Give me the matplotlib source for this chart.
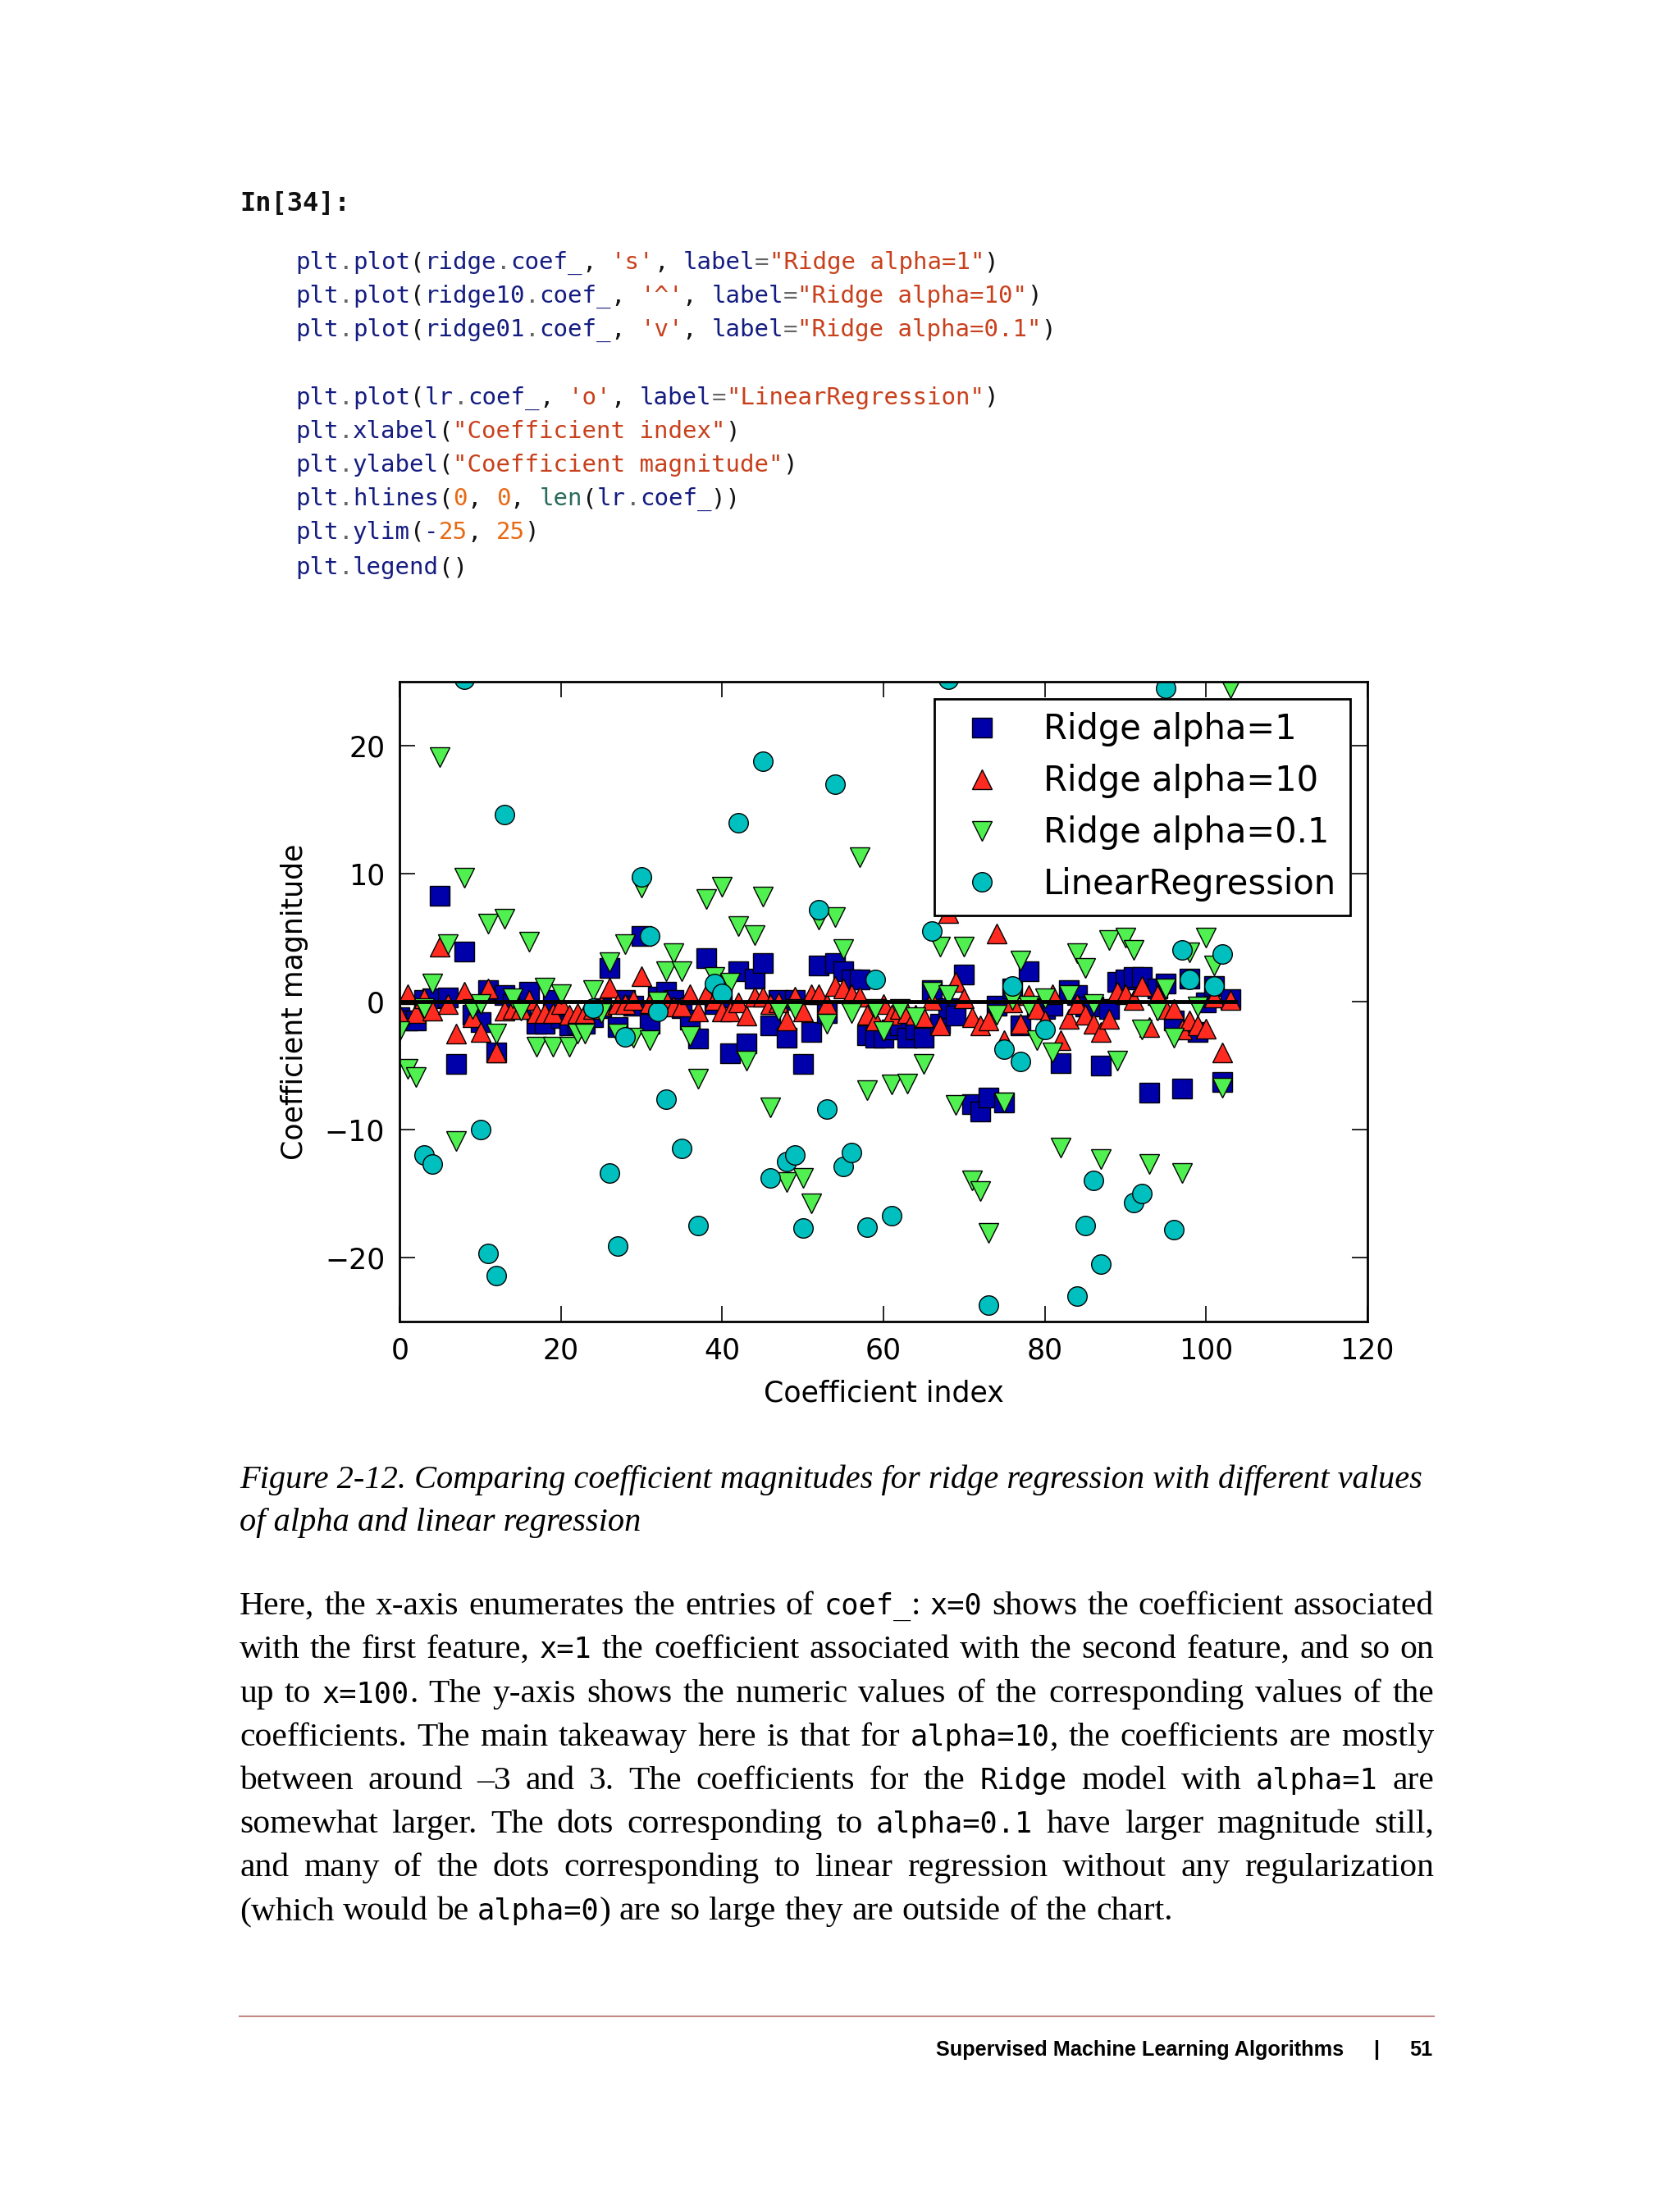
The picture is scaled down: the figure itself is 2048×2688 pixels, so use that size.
import matplotlib
matplotlib.use('Agg')
import matplotlib.pyplot as plt

# coefficients (index 0..103)
ridge_coef = [
    -1.2, -1.45, -1.5, 0.1, 0.25, 8.3, 0.3, -4.9, 3.9, -1.0,
    -1.6, 0.9, -4.0, 0.5, -0.2, -0.55, 0.75, -1.7, -1.7, 0.1,
    -1.3, -1.85, -1.7, -1.7, -1.2, -0.5, 2.6, -2.0, 0.1, -0.3,
    5.1, -1.7, 0.4, 0.75, 0.1, -0.5, -1.4, -2.9, 3.4, -0.2,
    0.3, -4.05, 2.4, -3.3, 1.8, 3.0, -1.85, 0.1, -2.8, 0.1,
    -4.9, -2.4, 2.85, -0.9, 3.0, 2.4, 1.7, 1.7, -2.6, -2.8,
    -2.8, -2.2, -1.85, -2.8, -2.2, -2.8, 0.9, -1.7, -0.5, -1.1,
    2.1, -8.0, -8.6, -7.5, -0.3, -7.9, 1.0, -1.85, 2.4, -0.5,
    -0.55, -0.3, -4.8, 0.9, 0.5, -0.4, -0.4, -5.0, -0.55, 1.55,
    1.7, 1.9, 1.9, -7.1, 1.05, 1.4, -1.45, -6.8, 1.8, -2.4,
    -0.05, 1.2, -6.3, 0.2]

ridge10_coef = [
    -1.0, 0.6, -0.9, 0.25, -0.7, 4.3, -0.2, -2.5, 0.8, -1.2,
    -2.4, 1.0, -4.0, -0.7, -0.55, -0.6, 0.1, -0.9, -0.9, -0.9,
    -0.2, -1.0, -0.9, -0.9, -0.6, -0.3, 1.1, -0.2, -0.2, 0.1,
    2.0, -0.1, -0.3, 0.15, -0.4, -0.4, 0.6, -0.8, 0.6, 0.1,
    -0.8, -0.8, -0.05, -1.1, 0.4, 0.4, -0.2, -0.05, -1.5, 0.4,
    -0.8, 0.6, 0.6, -0.2, 1.2, 1.0, 0.6, 0.4, -1.0, -1.5,
    -0.2, -1.0, -0.55, -0.9, -1.0, -1.2, 0.1, -1.85, 6.9, 1.55,
    0.25, -1.2, -1.85, -1.5, 5.35, -3.0, -0.05, -1.7, 0.5, -0.55,
    -1.5, 0.6, -3.0, -1.35, -0.2, -1.0, -1.7, -2.4, -1.35, 0.8,
    0.6, 0.1, 1.2, -2.0, 0.5, -0.55, -0.55, -2.2, -1.5, -1.85,
    -2.1, 0.3, -3.95, 0.1]

ridge01_coef = [
    -2.3, -5.25, -5.9, -0.5, 1.4, 19.1, 4.5, -10.9, 9.7, -0.55,
    -0.2, 6.1, -2.5, 6.5, 0.25, -0.7, 4.7, -3.5, 1.1, -3.5,
    0.6, -3.5, -2.5, -2.5, 0.9, -0.9, 3.1, -2.5, 4.5, -2.8,
    8.9, -3.0, 0.0, 2.4, 3.8, 2.4, -2.7, -6.0, 8.0, 1.9,
    9.0, 1.5, 5.9, -4.6, 5.2, 8.2, -8.3, -0.7, -14.1, -0.6,
    -13.8, -15.8, 6.4, -1.7, 6.6, 4.1, -0.9, 11.3, -6.9, -0.6,
    -2.3, -6.5, -0.55, -6.4, -1.2, -4.9, 0.75, 4.3, 0.5, -8.1,
    4.3, -14.0, -14.8, -18.1, -1.0, -7.9, 0.1, 3.2, -0.3, -3.0,
    0.25, -4.0, -11.4, 0.5, 3.8, 2.6, -0.2, -12.3, 4.8, -4.6,
    5.0, 4.05, -2.2, -12.7, -0.7, 1.0, -2.8, -13.4, 3.85, -0.4,
    5.0, 2.8, -6.7, 24.5]

# many linear regression coefficients lie outside the visible range
lr_coef = [
    -35.0, 42.0, -31.0, -12.0, -12.7, 38.0, -45.0, 33.0, 25.2, -28.0,
    -10.0, -19.7, -21.4, 14.6, 51.0, -47.0, 36.0, -62.0, 40.0, -33.0,
    57.0, -29.0, 44.0, -38.0, -0.5, 31.0, -13.4, -19.1, -2.75, -41.0,
    9.75, 5.1, -0.8, -7.6, 35.0, -11.5, -30.0, -17.5, 46.0, 1.4,
    0.65, -39.0, 14.0, 28.0, -52.0, 18.8, -13.8, 34.0, -12.5, -12.0,
    -17.7, 43.0, 7.2, -8.4, 17.0, -12.9, -11.8, 37.0, -17.6, 1.7,
    -48.0, -16.7, 29.0, -36.0, 55.0, -27.0, 5.5, 32.0, 25.2, -44.0,
    39.0, -58.0, 30.0, -23.7, 41.0, -3.7, 1.2, -4.7, 36.0, -31.0,
    -2.2, 27.0, -40.0, 33.0, -23.0, -17.5, -14.0, -20.5, 45.0, -34.0,
    29.0, -15.7, -15.0, -42.0, 31.0, 24.5, -17.8, 4.05, 1.7, -37.0,
    28.0, 1.2, 3.7, -46.0]

labels = ["Ridge alpha=1", "Ridge alpha=10", "Ridge alpha=0.1", "LinearRegression"]

xticks = [0, 20, 40, 60, 80, 100, 120]
yticks = [-20, -10, 0, 10, 20]

W, H = 2048, 2688
fig = plt.figure(figsize=(W / 100, H / 100), dpi=100)
renderer = fig.canvas.get_renderer()


def fx(px):
    return px / W


def fy(py):
    return 1 - py / H


def width_of(s, **kw):
    t = fig.text(0, 0, s, **kw)
    w = t.get_window_extent(renderer).width
    t.remove()
    return w


# ---------- code cell ----------
MONO = ['DejaVu Sans Mono']
NAVY = '#141c80'
STR = '#c8401c'
NUM = '#e86a14'
BUILTIN = '#2b6b5c'
DOT = '#666666'
BLK = '#111111'

fig.text(fx(292), fy(256), 'In[34]:', family=MONO, size=23, weight='bold',
         va='baseline', color='#111111')

code_size = 21
adv = width_of('M' * 40, family=MONO, size=code_size) / 40

code_lines = [
    (328, [('plt', NAVY), ('.', DOT), ('plot', NAVY), ('(', BLK), ('ridge', NAVY), ('.', DOT),
           ('coef_', NAVY), (', ', BLK), ("'s'", STR), (', ', BLK), ('label', NAVY), ('=', DOT),
           ('"Ridge alpha=1"', STR), (')', BLK)]),
    (369, [('plt', NAVY), ('.', DOT), ('plot', NAVY), ('(', BLK), ('ridge10', NAVY), ('.', DOT),
           ('coef_', NAVY), (', ', BLK), ("'^'", STR), (', ', BLK), ('label', NAVY), ('=', DOT),
           ('"Ridge alpha=10"', STR), (')', BLK)]),
    (410, [('plt', NAVY), ('.', DOT), ('plot', NAVY), ('(', BLK), ('ridge01', NAVY), ('.', DOT),
           ('coef_', NAVY), (', ', BLK), ("'v'", STR), (', ', BLK), ('label', NAVY), ('=', DOT),
           ('"Ridge alpha=0.1"', STR), (')', BLK)]),
    (493, [('plt', NAVY), ('.', DOT), ('plot', NAVY), ('(', BLK), ('lr', NAVY), ('.', DOT),
           ('coef_', NAVY), (', ', BLK), ("'o'", STR), (', ', BLK), ('label', NAVY), ('=', DOT),
           ('"LinearRegression"', STR), (')', BLK)]),
    (534, [('plt', NAVY), ('.', DOT), ('xlabel', NAVY), ('(', BLK), ('"Coefficient index"', STR),
           (')', BLK)]),
    (575, [('plt', NAVY), ('.', DOT), ('ylabel', NAVY), ('(', BLK), ('"Coefficient magnitude"', STR),
           (')', BLK)]),
    (616, [('plt', NAVY), ('.', DOT), ('hlines', NAVY), ('(', BLK), ('0', NUM), (', ', BLK),
           ('0', NUM), (', ', BLK), ('len', BUILTIN), ('(', BLK), ('lr', NAVY), ('.', DOT),
           ('coef_', NAVY), ('))', BLK)]),
    (657, [('plt', NAVY), ('.', DOT), ('ylim', NAVY), ('(', BLK), ('-', NAVY), ('25', NUM),
           (', ', BLK), ('25', NUM), (')', BLK)]),
    (700, [('plt', NAVY), ('.', DOT), ('legend', NAVY), ('()', BLK)]),
]

for y, segs in code_lines:
    x = 360
    for txt, col in segs:
        fig.text(fx(x), fy(y), txt, family=MONO, size=code_size, color=col, va='baseline')
        x += len(txt) * adv

# ---------- chart ----------
ax = fig.add_axes([fx(487.3), fy(1611), (1666.7 - 487.3) / W, (1611 - 831) / H])
ms = 17
ax.plot(ridge_coef, 's', color='#0000aa', mec='k', mew=1.0, ms=ms, label=labels[0])
ax.plot(ridge10_coef, '^', color='#ff2a20', mec='k', mew=1.0, ms=ms, label=labels[1])
ax.plot(ridge01_coef, 'v', color='#50f050', mec='k', mew=1.0, ms=ms, label=labels[2])
ax.plot(lr_coef, 'o', color='#00bfbf', mec='k', mew=1.0, ms=ms, label=labels[3])
ax.hlines(0, 0, len(lr_coef), color='k', linewidth=3.5)
ax.set_ylim(-25, 25)
ax.set_xlim(0, 120)
ax.set_xticks(xticks)
ax.set_yticks(yticks)
ax.tick_params(direction='in', length=14, width=1.2, top=True, right=True,
               labelsize=25, pad=13)
for sp in ax.spines.values():
    sp.set_linewidth(2)
ax.set_xlabel('Coefficient index', fontsize=25, labelpad=13)
ax.set_ylabel('Coefficient magnitude', fontsize=25, labelpad=14)
leg = ax.legend(numpoints=1, fontsize=30, fancybox=False, framealpha=1,
                edgecolor='k', loc='upper right', borderaxespad=0.5)
leg.get_frame().set_linewidth(2)

# ---------- caption ----------
SERIF = ['Liberation Serif', 'DejaVu Serif']
cap1 = 'Figure 2-12. Comparing coefficient magnitudes for ridge regression with different values'
cap2 = 'of alpha and linear regression'
w0 = width_of(cap1, family=SERIF, style='italic', size=30)
cap_size = 30 * 1442 / w0
fig.text(fx(292), fy(1814), cap1, family=SERIF, style='italic', size=cap_size, va='baseline')
fig.text(fx(292), fy(1866), cap2, family=SERIF, style='italic', size=cap_size, va='baseline')

# ---------- body paragraph (justified) ----------
body = [
    "Here, the x-axis enumerates the entries of `coef_`: `x=0` shows the coefficient associated",
    "with the first feature, `x=1` the coefficient associated with the second feature, and so on",
    "up to `x=100`. The y-axis shows the numeric values of the corresponding values of the",
    "coefficients. The main takeaway here is that for `alpha=10`, the coefficients are mostly",
    "between around \u20133 and 3. The coefficients for the `Ridge` model with `alpha=1` are",
    "somewhat larger. The dots corresponding to `alpha=0.1` have larger magnitude still,",
    "and many of the dots corresponding to linear regression without any regularization",
    "(which would be `alpha=0`) are so large they are outside of the chart.",
]
body_base = [1968, 2021, 2075, 2128, 2181, 2234, 2287, 2340]
x0, x1 = 292, 1748


def pieces_of(word):
    parts = word.split('`')
    out = []
    for k, p in enumerate(parts):
        if p:
            out.append((p, k % 2 == 1))
    return out


def piece_kw(is_code, scale):
    if is_code:
        return dict(family=MONO, size=22.5 * scale)
    return dict(family=SERIF, size=26.5 * scale)


def natural_width(line, scale):
    sp = width_of('a a', **piece_kw(False, scale)) - width_of('aa', **piece_kw(False, scale))
    words = [pieces_of(w) for w in line.split(' ')]
    ww = sum(width_of(p, **piece_kw(c, scale)) for w in words for p, c in w)
    return ww + sp * (len(words) - 1)


# scale fonts so that the longest full line just fills the text block
widest = max(natural_width(l, 1.0) for l in body[:-1])
scale = min(1.0 * (x1 - x0) / widest * 0.985, 1.2)

space_w = width_of('a a', **piece_kw(False, scale)) - width_of('aa', **piece_kw(False, scale))

for li, (line, yb) in enumerate(zip(body, body_base)):
    words = [pieces_of(w) for w in line.split(' ')]
    widths = []
    for w in words:
        widths.append(sum(width_of(p, **piece_kw(c, scale)) for p, c in w))
    if li == len(body) - 1:
        gap = space_w
    else:
        gap = (x1 - x0 - sum(widths)) / (len(words) - 1)
    x = x0
    for w, ww in zip(words, widths):
        xx = x
        for p, c in w:
            fig.text(fx(xx), fy(yb), p, va='baseline', **piece_kw(c, scale))
            xx += width_of(p, **piece_kw(c, scale))
        x += ww + gap

# ---------- footer ----------
fig.add_artist(plt.Line2D([fx(292), fx(1748)], [fy(2458), fy(2458)],
                          color='#c48888', linewidth=1.5))
FOOT = ['Liberation Sans Narrow', 'Liberation Sans', 'DejaVu Sans']
title = 'Supervised Machine Learning Algorithms'
tw = width_of(title, family=FOOT, weight='bold', size=24)
foot_size = min(24 * 500 / tw, 30)
fig.text(fx(1638), fy(2506), title, family=FOOT, weight='bold', size=foot_size,
         ha='right', va='baseline')
fig.text(fx(1678), fy(2506), '|', family=FOOT, weight='bold', size=foot_size,
         ha='center', va='baseline')
fig.text(fx(1746), fy(2506), '51', family=FOOT, weight='bold', size=foot_size,
         ha='right', va='baseline')

fig.savefig('out.png', dpi=100, facecolor='white')
